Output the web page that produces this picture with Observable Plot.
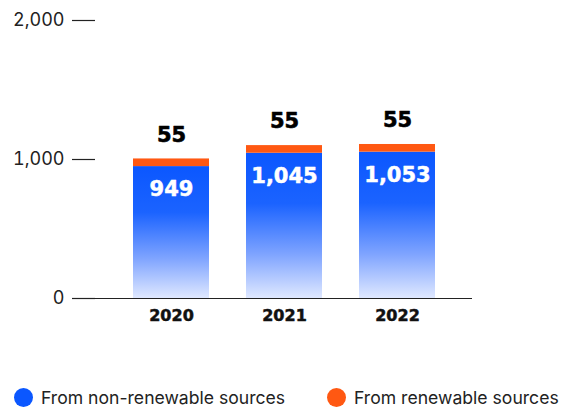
<!DOCTYPE html>
<html>
<head>
<meta charset="utf-8">
<script src="https://cdn.jsdelivr.net/npm/d3@7"></script>
<script src="https://cdn.jsdelivr.net/npm/@observablehq/plot@0.6"></script>
<style>
  body { margin: 0; background: #fff; font-family: Inter, "Noto Sans", sans-serif; }
  #chart svg { display: block; }
  .legend { position: relative; height: 67px; font-size: 17.6px; color: #222; }
  .legend .item { position: absolute; top: 47px; display: flex; align-items: center; height: 20px; }
  .legend .dot { width: 19px; height: 19px; border-radius: 50%; margin-right: 8px; }
</style>
</head>
<body>
<div id="chart"></div>
<div class="legend">
  <div class="item" style="left:14px"><span class="dot" style="background:#0b57ff"></span><span>From non-renewable sources</span></div>
  <div class="item" style="left:327px"><span class="dot" style="background:#ff5812"></span><span>From renewable sources</span></div>
</div>
<script>
const years = ["2020", "2021", "2022"];
const nonRenewable = [949, 1045, 1053];
const renewable = [55, 55, 55];
const yTicks = [0, 1000, 2000];

const rows = years.map((year, i) => ({
  year,
  non: nonRenewable[i],
  ren: renewable[i],
  total: nonRenewable[i] + renewable[i]
}));

const defs = () => {
  const d = d3.create("svg:defs");
  const g = d.append("linearGradient").attr("id", "blueGrad")
    .attr("x1", 0).attr("y1", 0).attr("x2", 0).attr("y2", 1);
  g.append("stop").attr("offset", "0%").attr("stop-color", "#0b57ff");
  g.append("stop").attr("offset", "35%").attr("stop-color", "#1b63ff");
  g.append("stop").attr("offset", "70%").attr("stop-color", "#7fa4ff");
  g.append("stop").attr("offset", "100%").attr("stop-color", "#dfe8ff");
  return d.node();
};

const boldFont = "'DejaVu Sans', sans-serif";

const chart = Plot.plot({
  width: 564,
  height: 340,
  marginTop: 20,
  marginBottom: 42,
  marginLeft: 95,
  marginRight: 92,
  style: { fontFamily: "Inter, 'Noto Sans', sans-serif", color: "#222", background: "#fff" },
  x: { domain: years, range: [132, 435], paddingInner: 0.33, paddingOuter: 0, label: null },
  y: { domain: [0, 2000], label: null },
  marks: [
    defs,
    Plot.barY(rows, { x: "year", y1: 0, y2: "non", fill: "url(#blueGrad)" }),
    Plot.barY(rows, { x: "year", y1: "non", y2: "total", fill: "#ff5812" }),
    Plot.ruleY([0], { stroke: "#222", strokeWidth: 1.2 }),
    Plot.axisY(yTicks, {
      anchor: "left", tickSize: 23, tickPadding: 8, fontSize: 18,
      tickFormat: d3.format(","), stroke: "#222", strokeOpacity: 1, strokeWidth: 1.2, label: null
    }),
    Plot.axisX({ tickSize: 0, tickPadding: 11, fontSize: 16, fontWeight: "bold", fontFamily: boldFont, label: null, fill: "#111", textStroke: "#111", textStrokeWidth: 0.5 }),
    Plot.text(rows, { x: "year", y: "total", text: d => d3.format(",")(d.ren), dy: -24, fontSize: 21, fontWeight: "bold", fontFamily: boldFont, fill: "#000", stroke: "#000", strokeWidth: 0.6 }),
    Plot.text(rows, { x: "year", y: "non", text: d => d3.format(",")(d.non), dy: 23, fontSize: 21, fontWeight: "bold", fontFamily: boldFont, fill: "#fff", stroke: "#fff", strokeWidth: 0.5 })
  ]
});
document.getElementById("chart").appendChild(chart);
</script>
</body>
</html>
